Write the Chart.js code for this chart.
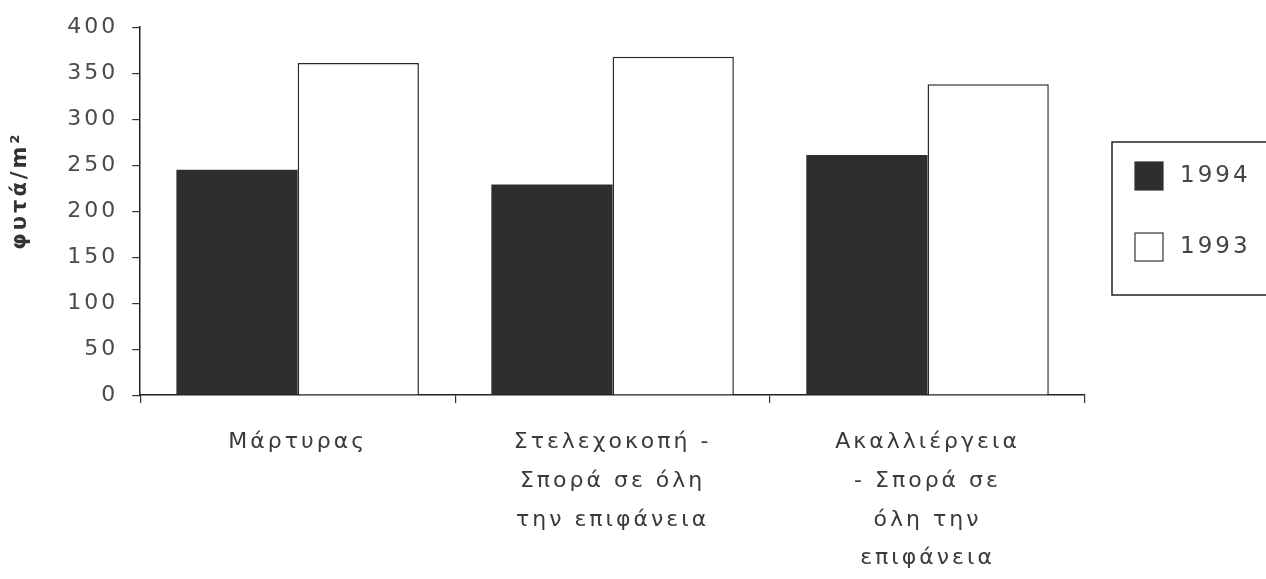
<!DOCTYPE html>
<html>
<head>
<meta charset="utf-8">
<script src="https://cdn.jsdelivr.net/npm/chart.js@4"></script>
<style>
  html, body { margin: 0; padding: 0; background: #fff; }
  #wrap { width: 1266px; height: 579px; }
</style>
</head>
<body>
<div id="wrap"><canvas id="chart"></canvas></div>
<script>
const categories = [
  'Μάρτυρας',
  ['Στελεχοκοπή -', 'Σπορά σε όλη', 'την επιφάνεια'],
  ['Ακαλλιέργεια', '- Σπορά σε', 'όλη την', 'επιφάνεια']
];
const values1994 = [245, 229, 261];
const values1993 = [361, 368, 338];
const seriesNames = ['1994', '1993'];
// leading spaces push the rotated title up a little, as in the scan
const yTitle = '    φυτά/m²';

const textFont = '"DejaVu Sans", sans-serif';

// spread letters a bit, the scanned font is wide
const spacing = {
  id: 'spacing',
  beforeLayout(chart) { chart.ctx.letterSpacing = '3px'; },
  beforeDraw(chart) { chart.ctx.letterSpacing = '3px'; }
};

// boxed legend at the right, cut by the page edge like the scan
const boxLegend = {
  id: 'boxLegend',
  afterDraw(chart) {
    const ctx = chart.ctx;
    const left = chart.chartArea.right + 27;
    const top = 142, bottom = 295;
    ctx.save();
    ctx.strokeStyle = '#222';
    ctx.lineWidth = 1.5;
    ctx.beginPath();
    ctx.moveTo(chart.width + 5, top);
    ctx.lineTo(left, top);
    ctx.lineTo(left, bottom);
    ctx.lineTo(chart.width + 5, bottom);
    ctx.stroke();
    ctx.font = '23px ' + textFont;
    ctx.textBaseline = 'middle';
    const rows = [176, 247];
    chart.data.datasets.forEach((ds, i) => {
      const y = rows[i];
      ctx.fillStyle = ds.backgroundColor;
      ctx.fillRect(left + 23, y - 14, 28, 28);
      ctx.strokeStyle = '#333';
      ctx.lineWidth = 1.2;
      ctx.strokeRect(left + 23, y - 14, 28, 28);
      ctx.fillStyle = '#444';
      ctx.fillText(ds.label, left + 68, y);
    });
    ctx.restore();
  }
};

new Chart(document.getElementById('chart'), {
  type: 'bar',
  data: {
    labels: categories,
    datasets: [
      {
        label: seriesNames[0],
        data: values1994,
        backgroundColor: '#2e2e2e',
        borderColor: '#2e2e2e',
        borderWidth: 0
      },
      {
        label: seriesNames[1],
        data: values1993,
        backgroundColor: '#ffffff',
        borderColor: '#2a2a2a',
        borderWidth: 1.5
      }
    ]
  },
  options: {
    responsive: true,
    maintainAspectRatio: false,
    animation: false,
    layout: { padding: { left: 8, right: 181, top: 12, bottom: -19 } },
    datasets: {
      bar: { categoryPercentage: 0.77, barPercentage: 1 }
    },
    plugins: {
      legend: { display: false },
      tooltip: { enabled: false }
    },
    scales: {
      x: {
        grid: {
          offset: true,
          drawOnChartArea: false,
          tickLength: 8,
          color: '#333',
          lineWidth: 1.2
        },
        border: { color: '#222', width: 1.5 },
        ticks: {
          maxRotation: 0,
          autoSkip: false,
          padding: 20,
          color: '#3a3a3a',
          font: { family: textFont, size: 22, lineHeight: 1.76 }
        }
      },
      y: {
        min: 0,
        max: 400,
        grid: {
          drawOnChartArea: false,
          tickLength: 8,
          color: '#333',
          lineWidth: 1.2
        },
        border: { color: '#222', width: 1.5 },
        ticks: {
          stepSize: 50,
          padding: 14,
          color: '#4a4a4a',
          font: { family: textFont, size: 22 }
        },
        title: {
          display: true,
          text: yTitle,
          color: '#333',
          padding: { top: 0, bottom: 20 },
          font: { family: textFont, size: 21, weight: 'bold' }
        }
      }
    }
  },
  plugins: [spacing, boxLegend]
});
</script>
</body>
</html>
